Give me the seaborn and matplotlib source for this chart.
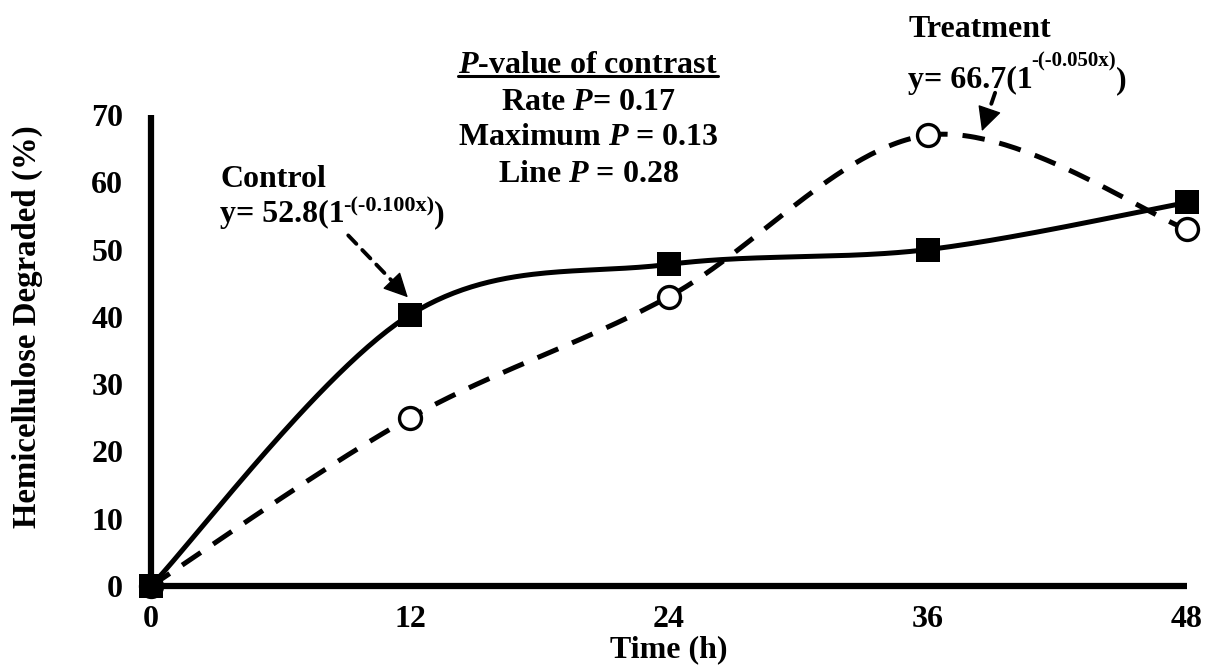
import numpy as np
import pandas as pd
import matplotlib
matplotlib.use("Agg")
import matplotlib.pyplot as plt
import seaborn as sns
from matplotlib.lines import Line2D

# ---- data ----
time_h = [0, 12, 24, 36, 48]
control = [0, 40.3, 47.8, 50.0, 57.0]
treatment = [0, 25.0, 43.0, 67.0, 53.0]
x_ticks = [0, 12, 24, 36, 48]
y_ticks = [0, 10, 20, 30, 40, 50, 60, 70]

sns.set_theme(style="white")
plt.rcParams["font.family"] = ["Liberation Serif", "DejaVu Serif"]
plt.rcParams["font.weight"] = "bold"
plt.rcParams["mathtext.fontset"] = "custom"
plt.rcParams["mathtext.it"] = "Liberation Serif:italic:bold"
plt.rcParams["mathtext.rm"] = "Liberation Serif:bold"
plt.rcParams["mathtext.bf"] = "Liberation Serif:bold"
for k in ["text.color", "axes.labelcolor", "xtick.color", "ytick.color", "axes.edgecolor"]:
    plt.rcParams[k] = "black"


def excel_smooth(x, y, n=60):
    pts = np.column_stack([x, y]).astype(float)
    P = np.vstack([pts[0], pts, pts[-1]])
    t = np.linspace(0, 1, n)[:, None]
    out = []
    for i in range(len(pts) - 1):
        p0 = P[i + 1]
        p3 = P[i + 2]
        c1 = p0 + (P[i + 2] - P[i]) / 6.0
        c2 = p3 - (P[i + 3] - P[i + 1]) / 6.0
        seg = ((1 - t) ** 3) * p0 + 3 * ((1 - t) ** 2) * t * c1 + 3 * (1 - t) * t ** 2 * c2 + t ** 3 * p3
        out.append(seg if i == 0 else seg[1:])
    out = np.vstack(out)
    return out[:, 0], out[:, 1]


fig = plt.figure(figsize=(12.07, 6.65), dpi=100)
ax = fig.add_axes([0.1251, 0.1188, 0.9834 - 0.1251, 0.8271 - 0.1188])

cx, cy = excel_smooth(time_h, control)
tx, ty = excel_smooth(time_h, treatment)
curves = pd.concat([
    pd.DataFrame({"x": cx, "y": cy, "s": "Control"}),
    pd.DataFrame({"x": tx, "y": ty, "s": "Treatment"}),
])
sns.lineplot(data=curves, x="x", y="y", hue="s", style="s", sort=False,
             palette={"Control": "black", "Treatment": "black"},
             dashes={"Control": "", "Treatment": (4.5, 3)},
             lw=3.6, legend=False, ax=ax, clip_on=False, zorder=2)

pts = pd.DataFrame({"x": time_h + time_h, "y": control + treatment,
                    "s": ["Control"] * 5 + ["Treatment"] * 5})
sns.scatterplot(data=pts[pts.s == "Treatment"], x="x", y="y", marker="o", s=250,
                facecolor="white", edgecolor="black", linewidth=2.4, ax=ax,
                clip_on=False, zorder=3, legend=False)
sns.scatterplot(data=pts[pts.s == "Control"], x="x", y="y", marker="s", s=300,
                color="black", edgecolor="black", linewidth=0, ax=ax,
                clip_on=False, zorder=4, legend=False)

fs = 23

ax.set_xlim(0, 48)
ax.set_ylim(0, 70)
ax.set_xticks(x_ticks)
ax.set_yticks(y_ticks)
ax.set_xticklabels([str(v) for v in x_ticks], fontsize=fs, fontweight="bold")
ax.set_yticklabels([str(v) for v in y_ticks], fontsize=fs, fontweight="bold")
ax.tick_params(axis="y", length=0, pad=20)
ax.tick_params(axis="x", length=0, pad=14)
for side in ["top", "right"]:
    ax.spines[side].set_visible(False)
for side in ["left", "bottom"]:
    ax.spines[side].set_linewidth(4.5)
    ax.spines[side].set_color("black")
    ax.spines[side].set_capstyle("butt")
ax.set_xlabel("Time (h)", fontsize=fs, fontweight="bold")
ax.xaxis.set_label_coords(0.5, -0.104)
ax.set_ylabel("Hemicellulose Degraded (%)", fontsize=23.6, fontweight="bold")
ax.yaxis.set_label_coords(-0.104, 0.55)
ax.grid(False)


def equation(x, y, main, sup, sup_dy, sfs):
    t1 = ax.text(x, y, main, fontsize=fs, fontweight="bold", ha="left", va="baseline",
                 clip_on=False)
    t2 = ax.annotate(sup, xy=(1, 0), xycoords=t1, xytext=(-1, sup_dy),
                     textcoords="offset points", fontsize=sfs, fontweight="bold",
                     ha="left", va="center", annotation_clip=False)
    ax.annotate(")", xy=(1, 0), xycoords=(t2, t1), fontsize=fs, fontweight="bold",
                ha="left", va="bottom", annotation_clip=False)


def dashed_arrow(start, tip, head_frac):
    sx, sy = start
    ex, ey = tip
    mid = (ex - (ex - sx) * head_frac, ey - (ey - sy) * head_frac)
    ax.annotate("", xy=mid, xytext=start, annotation_clip=False,
                arrowprops=dict(arrowstyle="-", lw=2.8, linestyle=(0, (3, 2.2)),
                                color="black", shrinkA=0, shrinkB=0))
    ax.annotate("", xy=tip, xytext=mid, annotation_clip=False,
                arrowprops=dict(arrowstyle="-|>,head_length=0.7,head_width=0.35",
                                lw=1, color="black", mutation_scale=22,
                                shrinkA=0, shrinkB=0))


# Control label
ax.text(3.2, 59.3, "Control", fontsize=fs, fontweight="bold", ha="left", va="baseline")
equation(3.2, 54.07, "y= 52.8(1", "-(-0.100x)", 16.6, 16)
dashed_arrow((9.14, 52.1), (11.9, 42.9), 0.25)

# Treatment label
ax.text(35.08, 81.6, "Treatment", fontsize=fs, fontweight="bold", ha="left", va="baseline",
        clip_on=False)
equation(35.08, 74.0, "y= 66.7(1", "-(-0.050x)", 24.4, 15)
dashed_arrow((39.11, 73.3), (38.5, 67.6), 0.45)

# P-value block
bx = 20.25
hdr = ax.text(bx, 77.3, r"$P$-value of contrast", fontsize=fs, fontweight="bold",
              ha="center", va="center", clip_on=False)
ax.text(bx, 71.9, r"Rate $P$= 0.17", fontsize=fs, fontweight="bold", ha="center", va="center",
        clip_on=False)
ax.text(bx, 66.6, r"Maximum $P$ = 0.13", fontsize=fs, fontweight="bold", ha="center", va="center")
ax.text(bx, 61.2, r"Line $P$ = 0.28", fontsize=fs, fontweight="bold", ha="center", va="center")

fig.canvas.draw()
bb = hdr.get_window_extent(fig.canvas.get_renderer())
inv = fig.transFigure.inverted()
uy = bb.y0 + 0.16 * bb.height
(x0, y0), (x1, _) = inv.transform([(bb.x0, uy), (bb.x1, uy)])
fig.add_artist(Line2D([x0, x1], [y0, y0], transform=fig.transFigure, color="black", lw=2.2))

fig.savefig("out.png", dpi=100)
